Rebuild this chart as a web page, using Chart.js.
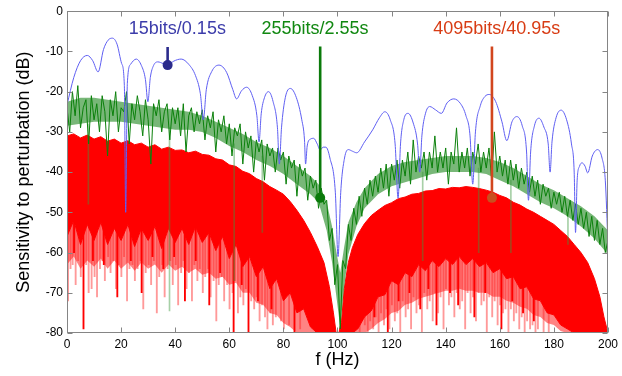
<!DOCTYPE html>
<html><head><meta charset="utf-8">
<script src="https://cdn.jsdelivr.net/npm/chart.js@4.4.0/dist/chart.umd.min.js"></script>
<style>html,body{margin:0;padding:0;background:#fff}#wrap{width:622px;height:376px;position:relative}</style>
</head><body><div id="wrap"><canvas id="c" width="622" height="376"></canvas></div>
<script>
// ---------- data ----------
const xTicks = [0,20,40,60,80,100,120,140,160,180,200];
const yTicks = [0,-10,-20,-30,-40,-50,-60,-70,-80];

// 15 bits / 0.15 s  (blue)
const blueF = [0,2.5,5,7.5,9.5,11.5,13.5,15.2,16.8,18.5,20.2,21.2,21.7,22.3,23.5,25.6,27.5,29,29.9,30.8,32,33.6,35.5,37.2,39.5,42.2,45,47.5,49.3,50.4,51.5,53.5,56.2,59,61.3,62.7,64.5,66.4,68.5,70.2,71,71.8,73,74.5,76.2,77.8,78.5,79.3,80.7,82.6,84.8,86.8,87.8,88.2,88.8,90,91.2,92.5,93.6,94.7,95.7,97.2,99.2,100.2,101.2,102.6,104,105.5,107.1,110,113,115.5,117.5,119.5,121.3,122.4,123.3,124.5,126.1,128,129.6,130.4,131.2,132.5,134.1,136.2,138.4,140.5,143,145.5,147.5,149,150,151,152.8,154.5,156.1,158.5,160.8,162.6,164.5,166.3,168.3,169.9,170.6,171.4,172.8,174.5,176.3,177.9,178.6,179.3,180.8,182.7,184.7,186.5,187.5,188,188.6,189.5,190.4,191.5,192.5,194.2,196.2,197.8,199,200];
const blueDb = [-23.3,-16.5,-12.3,-11.0,-12.3,-15.1,-9.5,-7.2,-6.7,-8.2,-13,-18.5,-50,-18,-13.2,-11.9,-13.5,-17,-22.5,-16.5,-13.5,-12.6,-13.0,-13.4,-12.4,-11.9,-13.2,-16,-20.5,-27,-19.5,-15,-13.4,-15.2,-19.5,-21.8,-19.8,-18.9,-21,-26,-32.5,-25.5,-21.5,-20,-22.5,-29,-38,-29,-21.5,-19.2,-21.5,-27,-32,-38,-33.5,-31.8,-31.6,-33,-34.5,-33.8,-33.8,-36.5,-45,-61,-45,-36.5,-34.4,-34.8,-35.2,-32.5,-29.5,-26.5,-25,-27,-33,-46.5,-33,-27,-25.4,-27.8,-33,-40,-31,-25.5,-23.7,-24.5,-25.4,-22.8,-21.8,-23,-26,-31,-43,-30,-23.5,-21.2,-20.7,-22.5,-27.5,-32.2,-27.5,-26.2,-28.5,-35,-47,-35,-28.5,-26.6,-28.8,-33,-40,-32.5,-26.5,-24.6,-27,-33,-40,-55,-42,-38.5,-37.7,-38.5,-40.2,-36,-34.4,-36.5,-42,-58];

// 255 bits / 2.55 s  (green) : one value per Hz, 0..200
const greenDb = [-24,-30,-20,-26,-18.5,-29,-24,-22,-33,-21,-27,
 -23,-30,-21,-25,-36,-22,-26,-20,-30,-24,
 -25,-20,-33,-23,-27,-21,-25,-31,-22,-27,
 -38,-23,-26,-22,-30,-25,-23,-32,-24,-28,
 -24,-31,-23,-35,-26,-24,-30,-25,-28,-24.5,
 -32,-26,-29,-25,-35,-27,-30,-26,-33,-28,
 -36,-29,-31,-28,-38,-30,-34,-31,-40,-32,
 -35,-32,-42,-33,-36,-34,-40,-34,-37,-35,
 -43,-36,-39,-37,-46,-38,-41,-39,-47,-41,
 -44,-42,-49,-44,-48,-47,-57,-54,-68,-63,
 -79,-62,-64,-53,-57,-49,-53,-46,-51,-44,
 -48,-42,-46,-41,-45,-39,-44,-38,-46,-38,
 -42,-37,-44,-37,-41,-35,-43,-32,-40,-36,
 -39,-35,-42,-35,-39,-31,-40,-35,-39,-34,
 -43,-35,-38,-29,-40,-35,-39,-34,-41,-35,
 -38,-33,-40,-35,-39,-34,-42,-30,-40,-36,
 -41,-37,-43,-37,-42,-38,-44,-39,-43,-40,
 -45,-41,-46,-42,-48,-43,-46,-44,-49,-45,
 -48,-45,-50,-46,-51,-47,-52,-48,-53,-49,
 -54,-50,-56,-51,-57,-52,-58,-54,-60,-57];
// green dense core (upper / lower)
const greenCoreF  = [0,5,10,15,20,25,30,35,40,45,50,55,60,65,70,75,80,85,90,93,96,98,99.5,101,102.5,104,107,110,115,120,125,130,135,140,145,150,155,160,165,170,175,180,185,190,195,200];
const greenCoreHi = [-22.5,-21.5,-21.5,-22,-22.5,-23,-23.5,-24,-24.5,-25,-26,-27.5,-29,-30.5,-32.5,-34,-36,-38.5,-41,-43,-47.5,-53.5,-59.5,-65,-58.5,-52.5,-47.5,-44,-40.5,-38.5,-37.5,-37,-36.5,-36,-36,-36,-36.5,-37.5,-39,-41,-43,-44.5,-46.5,-48.5,-51,-54.5];
const greenCoreLo = [-28.5,-28,-27.5,-27.5,-27.5,-28,-28.5,-29,-29.5,-29.5,-30,-31.5,-33.5,-35,-37,-38.5,-40.5,-43,-45.5,-47.5,-54.5,-62.5,-70.5,-78.5,-68.5,-60.5,-53.5,-49,-45.5,-43.5,-42.5,-41.5,-40.5,-40,-40,-40,-40.5,-42,-43.5,-45.5,-47.5,-49,-51,-53.5,-56.5,-60.5];
// long downward green strokes [f, tip, base]
const greenDeep = [[7.9,-48,-28],[37.9,-74.5,-29],[61.8,-67,-33],[72.2,-55,-36],[131.5,-62,-40],[152.2,-60,-39],[164.1,-60,-42],[185.2,-58,-50]];

// 4095 bits / 40.95 s  (red)
const redF   = [0,2.5,5,7.5,10,12.5,15,17.5,20,22.5,25,27.5,30,32.5,35,37.5,40,42.5,45,47.5,50,52.5,55,57.5,60,62.5,65,67.5,70,72.5,75,77.5,80,82.5,85,87.5,90,92.5,95,97,98.5,99.5,100.5,101.5,102.5,104,105.5,107.5,110,112.5,115,117.5,120,122.5,125,127.5,130,132.5,135,137.5,140,142.5,145,147.5,150,152.5,155,157.5,160,162.5,165,167.5,170,172.5,175,177.5,180,182.5,185,187.5,190,192.5,195,197,198.5,200];
// upper edge of the dense red mass
const redTop = [-31,-30.5,-31.5,-30.8,-31.8,-31.2,-32.3,-31.8,-32.8,-32.2,-33.2,-32.8,-33.8,-33.2,-34.3,-33.8,-34.6,-34.5,-35.2,-34.8,-35.6,-35.8,-36.7,-37,-38.2,-38.6,-39.8,-40.4,-41.6,-42.4,-43.6,-44.5,-45.5,-47.3,-49.5,-52,-55,-58.5,-62.5,-68.5,-75,-80,-80,-77,-69,-62.5,-58.8,-55.5,-52.8,-50.8,-49.5,-48.3,-47.6,-46.6,-46.2,-45.5,-45.3,-44.7,-44.6,-44.1,-44.2,-43.8,-43.9,-43.6,-43.8,-44.1,-44.5,-45,-45.8,-46.4,-47.5,-48.2,-49.2,-50,-51,-52,-53,-54.5,-56,-58,-60,-62.5,-66.5,-71,-76,-80];
// lower edge of the fully solid part
const redBot = [-56,-52,-58,-53,-57,-52.5,-58,-54,-57,-53,-58.5,-54,-57,-53.5,-59,-54,-57.5,-54,-58,-53.5,-57.5,-55,-59.5,-56,-61.5,-58,-63.5,-61,-66,-63.5,-69,-66.5,-72,-70,-75,-74,-78.5,-80,-80,-80,-80,-80,-80,-80,-80,-80,-80,-79,-76,-74.5,-71,-70.5,-67,-68,-65,-66,-63,-64.5,-62,-63.5,-61.5,-63,-61,-63,-61.5,-63.5,-62.5,-65,-64,-66.5,-66,-69,-68.5,-71.5,-72,-75,-75.5,-78,-79,-80,-80,-80,-80,-80,-80,-80];
// lower edge of the mixed (solid + pale) part
const redMixBot = [-63,-61,-64,-62,-63.5,-61.5,-64,-62,-64,-62.5,-64.5,-62.5,-64,-63,-65,-63,-64.5,-63.5,-65,-64,-65.5,-65,-66.5,-66,-68,-67.5,-70,-70,-72.5,-73,-75,-75.5,-77.5,-78.5,-80,-80,-80,-80,-80,-80,-80,-80,-80,-80,-80,-80,-80,-80,-80,-79,-77.5,-76.5,-75,-74.5,-73,-72.5,-71.5,-71,-70.5,-70,-69.5,-69.5,-69,-69.5,-69.5,-70,-70,-71,-71,-72,-72.5,-73.5,-74,-75.5,-76,-77.5,-78,-79.5,-80,-80,-80,-80,-80,-80,-80,-80];
// pale downward red strokes [f, tip, base]
const redPale = [[0.4,-72,-48],[1.3,-64,-48],[2.1,-63,-48],[3.2,-68,-48],[4.1,-62,-48],[5.1,-66,-48],[7.1,-63,-48],[8,-70,-48],[9.1,-69,-48],[10.2,-66,-48],[11.1,-71,-48],[12.2,-64,-48],[13.1,-62,-48],[14,-67,-48],[15.2,-61,-48],[16.1,-65,-48],[17.1,-62,-48],[18.1,-69,-48],[19.2,-63,-48],[20.1,-66,-48],[21.1,-61,-48],[22.2,-72,-48],[23.1,-64,-48],[24.2,-63,-48],[25.1,-67,-48],[26.1,-64,-48],[27.2,-62,-48],[28.2,-74,-48],[29.1,-65,-48],[30.2,-63,-48],[31.1,-68,-48],[32.1,-62,-48],[33.2,-75,-48],[34.1,-66,-48],[35.2,-63,-48],[36.1,-71,-48],[37.2,-64,-48],[38.2,-62,-48],[39.1,-68,-48],[40.2,-63,-48],[41.1,-73,-48],[42.2,-65,-48],[43.1,-62,-48],[44.2,-69,-48],[45.1,-65,-48],[46.2,-72,-48],[47.1,-63,-48],[48.2,-67,-48],[49.1,-64,-48],[50.2,-70,-48],[51.1,-66,-48],[52.2,-64,-48],[53.1,-71,-48],[54.2,-67,-48],[55.2,-77,-48],[56.1,-68,-48],[57.2,-66,-48],[58.1,-72,-48],[59.2,-68,-48],[60.1,-74,-55],[61.2,-70,-55],[62.1,-67,-55],[63.2,-75,-55],[64.1,-71,-55],[65.2,-73,-55],[66.1,-69,-55],[68.1,-72,-55],[69.2,-74,-55],[70.1,-71,-55],[71.2,-77,-55],[72.1,-73,-55],[73.2,-76,-55],[74.1,-79,-55],[75.2,-75,-55],[76.1,-78,-55],[77.2,-76,-55],[79.1,-77,-55],[80.2,-79,-62],[82.1,-78,-62],[86.2,-79,-62],
 [104.2,-80,-72],[106.1,-79,-72],[108.2,-80,-72],[110.1,-78,-72],[111.2,-80,-72],[112.1,-77,-60],[113.2,-79,-60],[114.1,-76,-60],[115.2,-80,-60],[116.1,-75,-60],[117.2,-78,-60],[118.1,-74,-60],[119.2,-79,-60],[120.1,-73,-60],[121.2,-77,-60],[122.1,-75,-60],[123.2,-80,-60],[124.1,-72,-60],[125.2,-76,-60],[126.1,-74,-60],[127.2,-79,-60],[128.1,-71,-60],[129.2,-75,-60],[130.1,-73,-60],[131.2,-80,-60],[132.1,-70,-60],[133.2,-74,-60],[134.1,-72,-60],[135.2,-77,-60],[136.1,-70,-60],[137.2,-75,-60],[138.1,-71,-60],[139.2,-79,-60],[140.1,-69,-60],[141.2,-73,-60],[142.1,-71,-60],[143.2,-76,-60],[144.1,-70,-60],[145.2,-74,-60],[146.1,-72,-60],[147.2,-79,-60],[148.1,-70,-60],[149.2,-75,-60],[150.1,-71,-60],[151.2,-77,-60],[152.1,-70,-60],[153.2,-73,-60],[154.1,-72,-60],[155.2,-80,-60],[156.1,-71,-60],[157.2,-76,-60],[158.1,-72,-60],[159.2,-78,-60],[160.1,-73,-60],[161.2,-75,-60],[162.1,-74,-60],[163.2,-80,-60],[164.1,-74,-60],[165.2,-77,-60],[166.1,-75,-60],[167.2,-79,-60],[168.1,-76,-60],[169.2,-80,-60],[170.1,-77,-60],[171.2,-79,-60],[172.1,-78,-60],[173.2,-80,-60],[174.1,-79,-60],[176.2,-80,-60],[178.1,-80,-60]];
// full-colour downward red strokes [f, tip, base]
const redSolid = [[2.6,-60,-48],[6.1,-79,-48],[9.6,-62,-48],[13.6,-63,-48],[18.6,-71,-48],[23.6,-62,-48],[27.6,-70,-48],[31.6,-61,-48],[35.6,-64,-48],[39.6,-61,-48],[43.6,-72,-48],[47.6,-62,-48],[52.6,-73,-48],[56.6,-65,-48],[61.6,-80,-55],[64.6,-68,-55],[67.1,-80,-55],[70.6,-72,-55],[75.6,-74,-55],[84.1,-80,-62],
 [113.6,-76,-60],[118.6,-80,-60],[122.6,-72,-60],[126.6,-70,-60],[130.6,-74,-60],[133.6,-69,-60],[136.6,-78,-60],[141.6,-70,-60],[144.6,-73,-60],[150.6,-76,-60],[154.6,-70,-60],[160.6,-79,-60],[164.6,-72,-60],[168.6,-75,-60],[172.6,-77,-60]];

// markers and labels
const markerF   = [37.2, 93.6, 157.1];
const markerTop = [-8.9, -8.8, -8.8];
const markerDot = [-13.4, -46.4, -46.4];
const labelText = ['15bits/0.15s', '255bits/2.55s', '4095bits/40.95s'];
const labelF    = [40.8, 91.7, 158.9];
const labelDb   = [-5.6, -5.6, -5.6];

// ---------- styles ----------
const FONT = '"Liberation Sans", Arial, Helvetica, sans-serif';
const markerColor = ['#2b2b8c', '#0a7a0a', '#d2461e'];
const markerDotColor = ['#2b2b8c', '#0a7a0a', '#c8501e'];
const labelColor = ['#3c3caa', '#118811', '#d83c14'];

const pts = (xs, ys) => xs.map((x, i) => ({x: x, y: ys[i]}));
const strokes = arr => arr.map(s => ({x: s[0], y: [s[1], s[2]]}));
const edge = (xs, ys, color, w, order, fill, bg) => ({type: 'line', data: pts(xs, ys), borderColor: color, borderWidth: w,
  pointRadius: 0, fill: fill === undefined ? false : fill, backgroundColor: bg || 'rgba(0,0,0,0)', order: order});

const datasets = [];
// 0,1,2 markers
markerF.forEach((f, i) => {
  datasets.push({type: 'line', data: pts([f, f], [markerTop[i], markerDot[i]]),
    borderColor: markerColor[i], backgroundColor: markerDotColor[i], borderWidth: 2.6,
    pointRadius: c => c.dataIndex === 1 ? 5 : 0, pointBorderWidth: 0, order: 0});
});
// 3 blue
datasets.push({type: 'line', data: pts(blueF, blueDb), borderColor: '#5f5ff2', borderWidth: 1,
  pointRadius: 0, cubicInterpolationMode: 'monotone', order: 1});
// 4 green strokes line
datasets.push({type: 'line', data: greenDb.map((v, i) => ({x: i, y: v})), borderColor: '#0b800b', borderWidth: 1,
  pointRadius: 0, tension: 0, order: 2});
// 5 green deep strokes
datasets.push({type: 'bar', data: strokes(greenDeep), backgroundColor: 'rgba(60,150,60,0.45)', barThickness: 1, grouped: false, order: 3});
// 6,7 green core band
datasets.push(edge(greenCoreF, greenCoreHi, 'rgba(0,0,0,0)', 0, 4));
datasets.push(edge(greenCoreF, greenCoreLo, 'rgba(0,0,0,0)', 0, 4, {target: 6}, 'rgba(30,135,30,0.6)'));
// 8,9 red solid band
datasets.push(edge(redF, redTop, '#ff0000', 1, 5));
datasets.push(edge(redF, redBot, '#ff0000', 1, 5, {target: 8}, '#ff0000'));
// 10 solid red strokes
datasets.push({type: 'bar', data: strokes(redSolid), backgroundColor: '#ff0000', barThickness: 1.2, grouped: false, order: 6});
// 11 mixed band (between solid bottom and mix bottom)
datasets.push(edge(redF, redMixBot, 'rgba(0,0,0,0)', 0, 7, {target: 9}, 'rgba(255,30,30,0.55)'));
// 12 pale red strokes
datasets.push({type: 'bar', data: strokes(redPale), backgroundColor: 'rgba(255,70,70,0.55)', barThickness: 1.2, grouped: false, order: 8});

const framePlugin = {
  id: 'frame',
  afterDatasetsDraw(chart) {
    const {ctx, chartArea: a, scales: {x, y}} = chart;
    ctx.save();
    ctx.strokeStyle = '#858585';
    ctx.lineWidth = 1;
    const L = Math.round(a.left) + 0.5, R = Math.round(a.right) - 0.5, T = Math.round(a.top) + 0.5, B = Math.round(a.bottom) - 0.5;
    ctx.strokeRect(L, T, R - L, B - T);
    ctx.beginPath();
    xTicks.forEach(v => { const p = Math.round(x.getPixelForValue(v)) + 0.5; ctx.moveTo(p, B); ctx.lineTo(p, B - 5); ctx.moveTo(p, T); ctx.lineTo(p, T + 5); });
    yTicks.forEach(v => { const p = Math.round(y.getPixelForValue(v)) + 0.5; ctx.moveTo(L, p); ctx.lineTo(L + 5, p); ctx.moveTo(R, p); ctx.lineTo(R - 5, p); });
    ctx.stroke();
    ctx.font = '18px ' + FONT;
    ctx.textAlign = 'center';
    ctx.textBaseline = 'alphabetic';
    labelText.forEach((t, i) => { ctx.fillStyle = labelColor[i]; ctx.fillText(t, x.getPixelForValue(labelF[i]), y.getPixelForValue(labelDb[i])); });
    ctx.restore();
  }
};

Chart.defaults.font.family = FONT;
new Chart(document.getElementById('c'), {
  type: 'line',
  data: {datasets: datasets},
  options: {
    responsive: false, animation: false, devicePixelRatio: 1,
    layout: {padding: {left: 0, right: 11, top: 9, bottom: 0}},
    plugins: {legend: {display: false}, tooltip: {enabled: false}},
    scales: {
      x: {type: 'linear', min: 0, max: 200, offset: false,
        grid: {display: false, drawTicks: false}, border: {display: false},
        ticks: {stepSize: 20, color: '#000', font: {size: 12}, padding: 4, maxRotation: 0, autoSkip: false},
        afterBuildTicks: s => { s.ticks = xTicks.map(v => ({value: v})); },
        title: {display: true, text: 'f (Hz)', color: '#000', font: {size: 18}, padding: {top: 0, bottom: 5}},
        afterFit: s => { s.height = 43; }},
      y: {type: 'linear', min: -80, max: 0,
        grid: {display: false, drawTicks: false}, border: {display: false},
        ticks: {stepSize: 10, color: '#000', font: {size: 12}, padding: 4},
        afterBuildTicks: s => { s.ticks = yTicks.map(v => ({value: v})); },
        title: {display: true, text: 'Sensitivity to perturbation (dB)', color: '#000', font: {size: 18}, padding: {top: 13, bottom: 0}},
        afterFit: s => { s.width = 67; }}
    }
  },
  plugins: [framePlugin]
});
</script>
</body></html>
